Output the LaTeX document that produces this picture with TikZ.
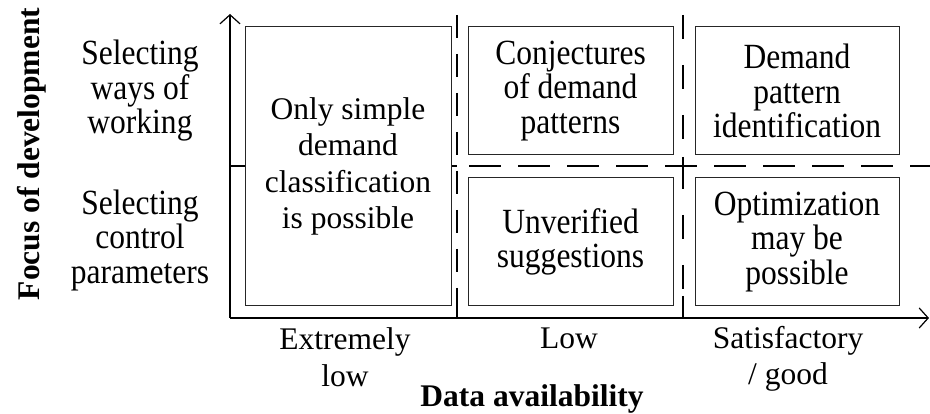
\documentclass[tikz,border=0pt]{standalone}
\usepackage{fontspec}
\setmainfont{Liberation Serif}
\newfontfamily\tallfont{Liberation Serif}[FakeStretch=0.89]
\usetikzlibrary{arrows.meta}
\tikzset{
  txt/.style={font=\fontsize{31.5}{36.5}\selectfont, align=center, inner sep=0pt},
  talltxt/.style={font=\fontsize{35.4}{34.5}\tallfont, align=center, inner sep=0pt},
  bold/.style={font=\fontsize{31.5}{36.5}\selectfont\bfseries, inner sep=0pt},
  cell/.style={draw=black!85, line width=1pt, fill=white, align=center, inner sep=0pt},
  axis/.style={line width=1.4pt, -{Straight Barb[length=9pt,width=20pt,line width=1.2pt]}},
  vdash/.style={line width=1.8pt, dash pattern=on 23pt off 16pt},
  hdash/.style={line width=1.8pt, dash pattern=on 32pt off 17pt},
  solidline/.style={line width=1.4pt}
}
\begin{document}
\begin{tikzpicture}[x=1pt,y=-1pt]
\useasboundingbox[fill=white] (0,0) rectangle (930,414);
% coordinates
\coordinate (O) at (230,318);
\coordinate (ytop) at (230,14);
\coordinate (xend) at (929,318);
\coordinate (mid0) at (230,166);
\coordinate (mid1) at (457,166);
\coordinate (v1top) at (457,15);
\coordinate (v1bot) at (457,318);
\coordinate (v2top) at (683,15);
\coordinate (v2bot) at (683,318);
\coordinate (hstart) at (469,166);
\coordinate (hend) at (930,166);
\coordinate (cl) at (674,166);
\coordinate (cr) at (693,166);
\coordinate (ct) at (683,157);
\coordinate (cb) at (683,181);
\coordinate (s1) at (457,296);
\coordinate (s2) at (683,296);
% grid lines
\draw[solidline] (mid0) -- (mid1);
\draw[vdash] (v1top) -- (v1bot);
\draw[solidline] (s1) -- (v1bot);
\draw[vdash, dash pattern=on 24pt off 26pt] (v2top) -- (v2bot);
\draw[solidline] (s2) -- (v2bot);
\draw[hdash] (hstart) -- (hend);
\draw[solidline] (cl) -- (cr);
\draw[solidline] (ct) -- (cb);
% axes
\draw[axis] (O) -- (ytop);
\draw[axis] (O) -- (xend);
% cells
\node[cell, txt, minimum width=206pt, minimum height=279pt] (c1) at (348,166.5) {Only simple\\demand\\classification\\is possible};
\node[cell, talltxt, minimum width=205pt, minimum height=128pt] (c2) at (570.5,91) {Conjectures\\of demand\\patterns};
\node[cell, talltxt, minimum width=204pt, minimum height=128pt] (c3) at (797,91) {Demand\\pattern\\identification};
\node[cell, talltxt, minimum width=205pt, minimum height=128pt] (c4) at (570.5,242) {Unverified\\suggestions};
\node[cell, talltxt, minimum width=204pt, minimum height=128pt] (c5) at (797,242) {Optimization\\may be\\possible};
% labels
\node[talltxt] (l1) at (140,91) {Selecting\\ways of\\working};
\node[talltxt] (l2) at (140,240) {Selecting\\control\\parameters};
\node[bold, rotate=90] (ylab) at (32,154) {Focus of development};
\node[txt] (b1) at (345,357) {Extremely\\low};
\node[txt] (b2) at (569,338) {Low};
\node[txt] (b3) at (788,359) {Satisfactory\\/ good};
\node[bold] (xlab) at (532,399) {Data availability};
\end{tikzpicture}
\end{document}
